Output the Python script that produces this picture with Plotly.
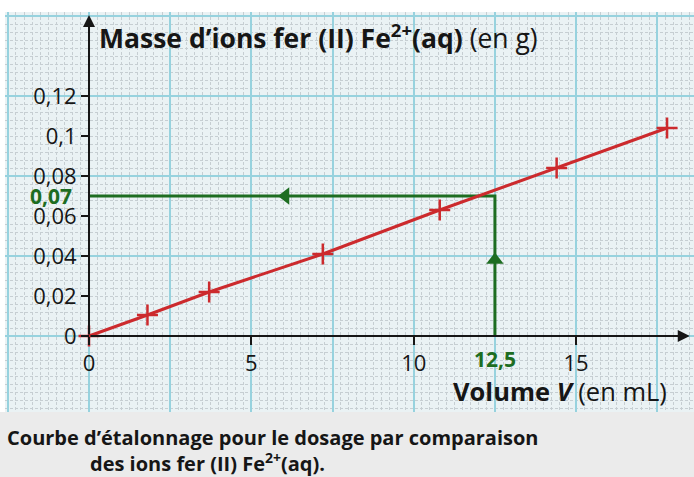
import plotly.graph_objects as go

# ---- data ----
volume_mL = [0, 1.8, 3.7, 7.2, 10.8, 14.4, 17.8]
masse_g = [0, 0.0105, 0.022, 0.041, 0.063, 0.084, 0.104]

v_lecture = 12.5
m_lecture = 0.07

x_tickvals = [0, 5, 10, 15]
x_ticktext = ["0", "5", "10", "15"]
y_tickvals = [0, 0.02, 0.04, 0.06, 0.08, 0.1, 0.12]
y_ticktext = ["0", "0,02", "0,04", "0,06", "0,08", "0,1", "0,12"]

# ---- styling ----
X_RANGE = [-2.587, 18.63]
Y_RANGE = [-0.038, 0.162]
RED = "#cc2a2d"
GREEN = "#1d6d21"
INK = "#161616"
FONT = "Open Sans"

fig = go.Figure()

# dummy trace for the graph-paper overlay axes
fig.add_trace(go.Scatter(x=[None], y=[None], xaxis="x2", yaxis="y2",
                         showlegend=False, hoverinfo="skip"))

# reading lines (green)
fig.add_trace(go.Scatter(
    x=[v_lecture, v_lecture, 0], y=[0, m_lecture, m_lecture],
    mode="lines", line=dict(color=GREEN, width=3),
    showlegend=False, hoverinfo="skip"))
# arrow heads on reading lines
fig.add_trace(go.Scatter(
    x=[v_lecture, 6.05], y=[0.038, m_lecture], mode="markers",
    marker=dict(symbol=["triangle-up", "triangle-left"], size=15, color=GREEN),
    showlegend=False, hoverinfo="skip"))

# calibration curve
fig.add_trace(go.Scatter(
    x=volume_mL, y=masse_g, mode="lines+markers",
    line=dict(color=RED, width=3),
    marker=dict(symbol="cross-thin", size=15, line=dict(color=RED, width=2.5)),
    showlegend=False))

xpos = (0 - Y_RANGE[0]) / (Y_RANGE[1] - Y_RANGE[0])
ypos = (0 - X_RANGE[0]) / (X_RANGE[1] - X_RANGE[0])

tickfont = dict(family=FONT, size=22, color=INK)
major_grid = "#97d2de"
minor_grid = "#c6ced2"

fig.update_layout(
    template="none",
    width=694, height=477,
    margin=dict(l=5, r=0, t=12, b=65, pad=0, autoexpand=False),
    paper_bgcolor="white",
    plot_bgcolor="#eaf2f4",
    xaxis=dict(range=X_RANGE, anchor="free", position=xpos, automargin=False,
               tickvals=x_tickvals, ticktext=x_ticktext,
               ticks="outside", ticklen=8, tickwidth=1.5, tickcolor=INK,
               showgrid=False, zeroline=False, showline=False,
               tickfont=tickfont),
    yaxis=dict(range=Y_RANGE, anchor="free", position=ypos, automargin=False,
               tickvals=y_tickvals, ticktext=y_ticktext,
               ticks="outside", ticklen=8, tickwidth=1.5, tickcolor=INK,
               showgrid=False, zeroline=False, showline=False,
               tickfont=tickfont),
    xaxis2=dict(range=X_RANGE, overlaying="x", anchor="y2", automargin=False,
                tick0=0, dtick=2.5, showgrid=True, gridcolor=major_grid,
                gridwidth=1.5, showticklabels=False, ticks="",
                zeroline=False, showline=False,
                minor=dict(tick0=0, dtick=0.25, showgrid=True, ticks="",
                           gridcolor=minor_grid, griddash="3px,2px", gridwidth=1)),
    yaxis2=dict(range=Y_RANGE, overlaying="y", anchor="x2", automargin=False,
                tick0=0, dtick=0.04, showgrid=True, gridcolor=major_grid,
                gridwidth=1.5, showticklabels=False, ticks="",
                zeroline=False, showline=False,
                minor=dict(tick0=0, dtick=0.004, showgrid=True, ticks="",
                           gridcolor=minor_grid, griddash="3px,2px", gridwidth=1)),
)

# axes with arrows
fig.add_annotation(x=0, y=0.1605, ax=0, ay=0, xref="x", yref="y",
                   axref="x", ayref="y", text="", showarrow=True,
                   arrowhead=2, arrowsize=1.2, arrowwidth=2, arrowcolor=INK)
fig.add_annotation(x=18.5, y=0, ax=0, ay=0, xref="x", yref="y",
                   axref="x", ayref="y", text="", showarrow=True,
                   arrowhead=2, arrowsize=1.2, arrowwidth=2, arrowcolor=INK)

# green reading labels
fig.add_annotation(x=v_lecture, y=0, xref="x", yref="y", yshift=-23,
                   text="<b>12,5</b>", showarrow=False,
                   font=dict(family=FONT, size=21, color=GREEN))
fig.add_annotation(x=0, y=m_lecture, xref="x", yref="y", xshift=-15,
                   xanchor="right", text="<b>0,07</b>", showarrow=False,
                   font=dict(family=FONT, size=21, color=GREEN))

# axis titles
fig.add_annotation(x=(97 - 5) / 689, y=(412 - 36) / 400, xref="paper", yref="paper",
                   xanchor="left", yanchor="middle", showarrow=False,
                   text="<b>Masse d’ions fer (II) Fe<sup>2+</sup>(aq)</b> (en g)",
                   font=dict(family=FONT, size=26.5, color=INK))
fig.add_annotation(x=(669 - 5) / 689, y=(412 - 391) / 400, xref="paper", yref="paper",
                   xanchor="right", yanchor="middle", showarrow=False,
                   text="<b>Volume <i>V</i></b> (en mL)",
                   font=dict(family=FONT, size=25.5, color=INK))

# caption band
fig.add_shape(type="rect", xref="paper", yref="paper",
              x0=-5 / 689, x1=1, y0=-65 / 400, y1=0,
              fillcolor="#ebebeb", line=dict(width=0), layer="below")
fig.add_annotation(x=0, y=(412 - 437) / 400, xref="paper", yref="paper",
                   xanchor="left", yanchor="middle", showarrow=False,
                   text="<b>Courbe d’étalonnage pour le dosage par comparaison</b>",
                   font=dict(family=FONT, size=20, color=INK))
fig.add_annotation(x=(88 - 5) / 689, y=(412 - 462) / 400, xref="paper", yref="paper",
                   xanchor="left", yanchor="middle", showarrow=False,
                   text="<b>des ions fer (II) Fe<sup>2+</sup>(aq).</b>",
                   font=dict(family=FONT, size=20, color=INK))

fig.write_html("out.html", config={"displayModeBar": False},
               post_script="document.body.style.margin='0';")
